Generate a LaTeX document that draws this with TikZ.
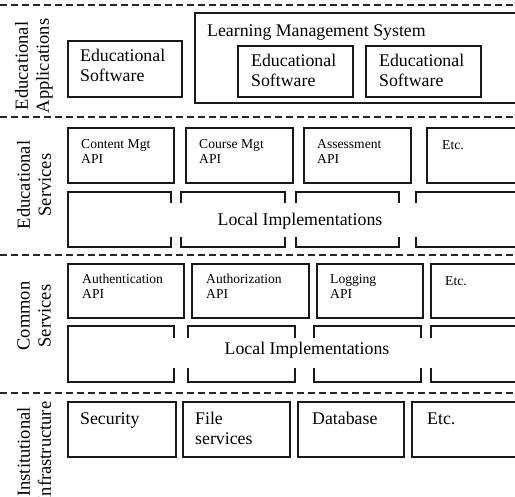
\documentclass[tikz,border=0pt]{standalone}
\usepackage{fontspec}
\setmainfont{Liberation Serif}
\begin{document}
\begin{tikzpicture}[x=1pt,y=-1pt,
  box/.style={draw=black!90,line width=1.2pt,inner sep=0pt,outer sep=0pt},
  seg/.style={draw=black!90,line width=1.2pt},
  layer/.style={draw=black!85,line width=1.2pt,dash pattern=on 7pt off 4pt},
  big/.style={font=\fontsize{17.8}{20}\selectfont,align=left,inner sep=0pt,anchor=base west},
  small/.style={font=\fontsize{13.6}{15}\selectfont,align=left,inner sep=0pt,anchor=base west},
  side/.style={font=\fontsize{18.5}{21}\selectfont,align=center,inner sep=0pt,rotate=90},
  mid/.style={font=\fontsize{17.8}{20}\selectfont,inner sep=0pt,anchor=base}]
\newcommand\panel[5]{%
  \pgfmathsetmacro\pw{#4-#2}\pgfmathsetmacro\ph{#5-#3}%
  \node[box,minimum width=\pw pt,minimum height=\ph pt,anchor=north west] (#1) at (#2,#3) {};}
\useasboundingbox (0,0) rectangle (515,497);
\clip (0,0) rectangle (515,497);

% layer separators
\coordinate (l0w) at (0,5);   \coordinate (l0e) at (515,5);
\coordinate (l1w) at (0,117); \coordinate (l1e) at (515,117);
\coordinate (l2w) at (0,255); \coordinate (l2e) at (515,255);
\coordinate (l3w) at (0,393); \coordinate (l3e) at (515,393);
\draw[layer] (l0w) -- (l0e);
\draw[layer] (l1w) -- (l1e);
\draw[layer] (l2w) -- (l2e);
\draw[layer] (l3w) -- (l3e);

% layer titles
\node[side] (tapps) at (34,66)  {Educational\\Applications};
\node[side] (tesvc) at (34,185) {Educational\\Services};
\node[side] (tcsvc) at (34,316) {Common\\Services};
\node[side] (tinfr) at (34,452) {Institutional\\Infrastructure};

% educational applications (multi-line nodes sit on their last baseline)
\panel{edsw}{68}{41}{182}{97}
\node[big] (edswt) at ([shift={(12,41)}]edsw.north west) {Educational\\Software};
\panel{lms}{195}{13}{540}{103}
\node[big] (lmst) at ([shift={(12,24)}]lms.north west) {Learning Management System};
\panel{lmsa}{238}{46}{353}{97}
\node[big] (lmsat) at ([shift={(13,41)}]lmsa.north west) {Educational\\Software};
\panel{lmsb}{366}{46}{481}{97}
\node[big] (lmsbt) at ([shift={(13,41)}]lmsb.north west) {Educational\\Software};

% educational services
\panel{cont}{68}{128}{174}{183}
\node[small] (contt) at ([shift={(13,36)}]cont.north west) {Content Mgt\\API};
\panel{cour}{186}{128}{293}{183}
\node[small] (court) at ([shift={(13,36)}]cour.north west) {Course Mgt\\API};
\panel{asse}{304}{128}{411}{183}
\node[small] (asset) at ([shift={(13,36)}]asse.north west) {Assessment\\API};
\panel{eetc}{427}{128}{540}{183}
\node[small] (eetct) at ([shift={(15,22)}]eetc.north west) {Etc.};

% local implementations, educational services
\draw[seg] (171,203) -- (171,192) -- (68,192) -- (68,247) -- (171,247) -- (171,237);
\draw[seg] (181,203) -- (181,192) -- (285,192) -- (285,203);
\draw[seg] (181,237) -- (181,247) -- (285,247) -- (285,237);
\draw[seg] (296,203) -- (296,192) -- (399,192) -- (399,203);
\draw[seg] (296,237) -- (296,247) -- (399,247) -- (399,237);
\draw[seg] (416,203) -- (416,192) -- (540,192);
\draw[seg] (416,237) -- (416,247) -- (540,247);
\node[mid] (eimpl) at (300,226) {Local Implementations};

% common services
\panel{auth}{68}{264}{184}{318}
\node[small] (autht) at ([shift={(14,35)}]auth.north west) {Authentication\\API};
\panel{autz}{192}{264}{309}{318}
\node[small] (autzt) at ([shift={(14,35)}]autz.north west) {Authorization\\API};
\panel{logg}{317}{264}{423}{318}
\node[small] (loggt) at ([shift={(13,35)}]logg.north west) {Logging\\API};
\panel{cetc}{431}{264}{540}{318}
\node[small] (cetct) at ([shift={(14,22)}]cetc.north west) {Etc.};

% local implementations, common services
\draw[seg] (174,338) -- (174,326) -- (68,326) -- (68,382) -- (174,382) -- (174,368);
\draw[seg] (188,338) -- (188,326) -- (295,326) -- (295,338);
\draw[seg] (188,368) -- (188,382) -- (295,382) -- (295,368);
\draw[seg] (314,338) -- (314,326) -- (421,326) -- (421,338);
\draw[seg] (314,368) -- (314,382) -- (421,382) -- (421,368);
\draw[seg] (431,338) -- (431,326) -- (540,326);
\draw[seg] (431,368) -- (431,382) -- (540,382);
\node[mid] (cimpl) at (307,355) {Local Implementations};

% institutional infrastructure
\panel{secu}{68}{402}{176}{457}
\node[big] (secut) at ([shift={(12,23)}]secu.north west) {Security};
\panel{file}{183}{402}{290}{457}
\node[big] (filet) at ([shift={(12,43)}]file.north west) {File\\services};
\panel{data}{298}{402}{404}{457}
\node[big] (datat) at ([shift={(14,23)}]data.north west) {Database};
\panel{ietc}{412}{402}{540}{457}
\node[big] (ietct) at ([shift={(15,23)}]ietc.north west) {Etc.};
\end{tikzpicture}
\end{document}
